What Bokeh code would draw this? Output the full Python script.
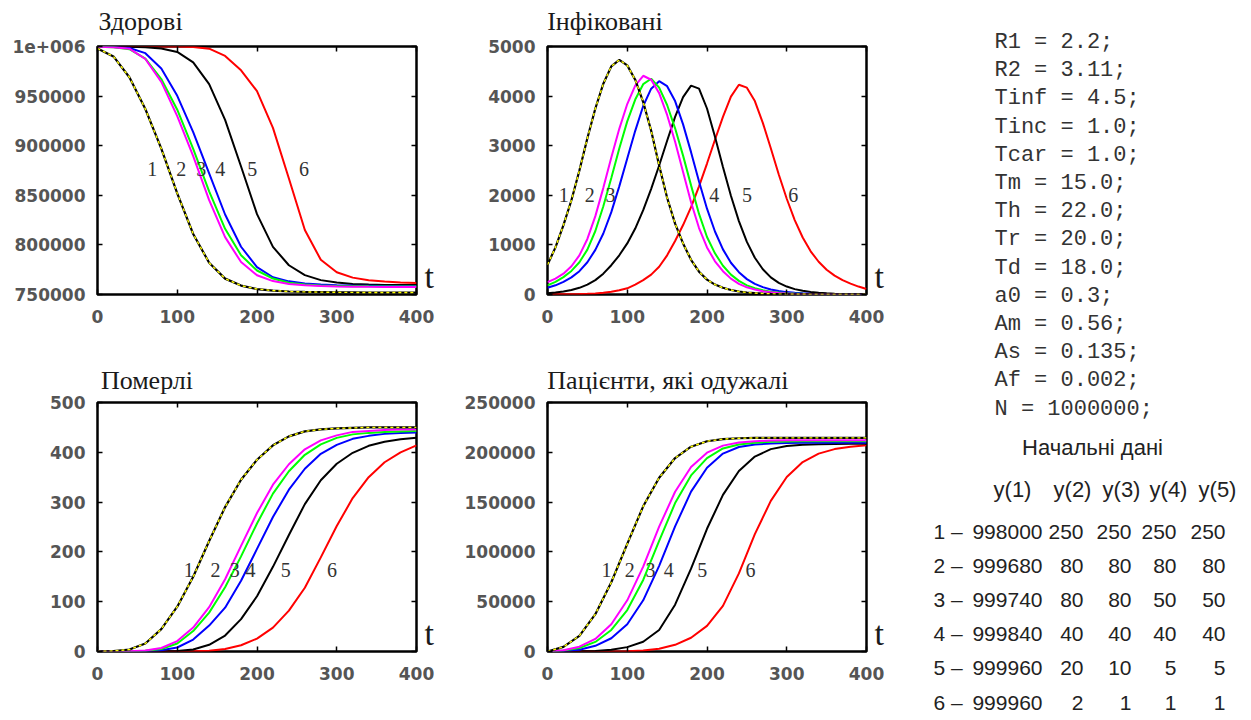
from bokeh.plotting import figure
from bokeh.models import (Range1d, LinearAxis, FixedTicker, BasicTickFormatter,
                          CustomJSTickFormatter, ColumnDataSource)
from bokeh.layouts import row, column
from bokeh.embed import file_html
from bokeh.resources import INLINE
from bokeh.core.properties import value

# ---------------- data ----------------
T_COARSE = list(range(0, 401, 20))   # time grid for S, D, R
T_FINE = list(range(0, 401, 10))     # time grid for I

# Здорові (healthy)
S1 = [998000, 990000, 969000, 937000, 897000, 852000, 811000, 782000, 766000, 759000, 755500,
      754000, 753000, 752600, 752400, 752200, 752100, 752000, 752000, 752000, 752000]
S2 = [999680, 999300, 997800, 987400, 964300, 929800, 889500, 845200, 807800, 782700, 769400,
      763500, 760600, 759400, 758500, 758150, 757900, 757700, 757600, 757500, 757500]
S3 = [999740, 999340, 997260, 987800, 967200, 936300, 896800, 854000, 816200, 789600, 774200,
      766060, 761920, 760180, 759180, 758640, 758400, 758200, 758100, 758000, 758000]
S4 = [999840, 999585, 998480, 993290, 977810, 950300, 913590, 872020, 830640, 798130, 777620,
      767360, 763250, 761110, 759960, 759280, 759000, 758800, 758600, 758500, 758500]
S5 = [999960, 999900, 999700, 999200, 998000, 994500, 984000, 962000, 926000, 879000, 831000,
      798000, 779500, 769500, 764500, 762000, 760700, 760000, 759700, 759500, 759500]
S6 = [999960, 999960, 999950, 999940, 999920, 999880, 999600, 997800, 990500, 976000, 955000,
      918000, 867000, 815000, 785000, 772500, 767000, 764400, 763000, 762100, 761600]

# Інфіковані (infected)
I1 = [600, 950, 1400, 1900, 2500, 3150, 3750, 4250, 4600, 4730, 4620, 4330, 3880, 3300, 2600,
      1950, 1430, 1030, 700, 460, 300, 200, 135, 90, 60, 40, 28, 19, 13, 9, 6, 5, 4, 3, 2, 2,
      1, 1, 1, 1, 1]
I2 = [250, 320, 420, 570, 790, 1120, 1580, 2150, 2760, 3340, 3840, 4210, 4410, 4330, 4060,
      3620, 3080, 2470, 1860, 1340, 950, 670, 470, 320, 215, 145, 100, 67, 45, 31, 21, 15, 10,
      7, 5, 4, 3, 2, 2, 1, 1]
I3 = [185, 255, 350, 475, 650, 905, 1280, 1780, 2350, 2945, 3490, 3930, 4240, 4350, 4170,
      3820, 3350, 2800, 2200, 1625, 1160, 830, 580, 400, 275, 185, 125, 85, 58, 40, 27, 19,
      13, 9, 6, 5, 3, 3, 2, 1, 1]
I4 = [135, 185, 255, 345, 470, 650, 900, 1230, 1660, 2180, 2740, 3300, 3800, 4150, 4300,
      4200, 3900, 3430, 2870, 2280, 1730, 1270, 910, 640, 450, 310, 215, 148, 102, 70, 48,
      33, 23, 16, 11, 8, 5, 4, 3, 2, 1]
I5 = [27, 40, 60, 90, 135, 200, 290, 420, 590, 790, 1030, 1330, 1700, 2130, 2600, 3100,
      3580, 3980, 4210, 4150, 3750, 3180, 2570, 1990, 1480, 1060, 740, 510, 345, 235, 160,
      108, 74, 51, 35, 24, 16, 11, 8, 5, 4]
I6 = [2, 3, 4, 6, 9, 14, 22, 35, 55, 85, 125, 200, 290, 400, 560, 790, 1080, 1400, 1760,
      2180, 2640, 3120, 3580, 3990, 4230, 4170, 3900, 3460, 2950, 2420, 1930, 1500, 1150,
      870, 660, 500, 380, 290, 220, 160, 110]

# Померлі (deceased)
D1 = [0, 1, 4, 16, 45, 90, 150, 222, 290, 345, 385, 414, 432, 442, 446, 448, 449, 450, 450, 450, 450]
D2 = [0, 0, 0.7, 2.2, 7, 21, 48, 89, 145, 212, 278, 335, 376, 406, 424, 434, 441, 443, 445, 446, 446]
D3 = [0, 0, 0.4, 1.5, 5, 16, 41, 78, 129, 191, 257, 317, 362, 395, 416, 429, 436, 439, 441, 442, 443]
D4 = [0, 0, 0.2, 0.6, 2.5, 8, 24, 52, 88, 142, 206, 270, 325, 367, 397, 415, 427, 433, 437, 439, 440]
D5 = [0, 0, 0, 0, 0.2, 1, 4, 13.5, 32, 65, 111, 170, 234, 296, 344, 377, 399, 413, 421, 426, 429]
D6 = [0, 0, 0, 0, 0, 0, 0.4, 1.7, 5, 12.5, 26, 48, 82, 128, 189, 252, 308, 350, 380, 400, 414]

# Пацієнти, які одужалі (recovered)
R1 = [0, 4600, 15750, 37500, 69500, 108000, 145750, 174500, 194250, 205600, 211100, 213250,
      214100, 214425, 214500, 214500, 214500, 214500, 214500, 214500, 214500]
R2 = [0, 1340, 4800, 12600, 27400, 51400, 85200, 125400, 160400, 185200, 199600, 206700,
      209800, 211140, 211760, 212000, 212000, 212000, 212000, 212000, 212000]
R3 = [0, 900, 3500, 9600, 21600, 41600, 71800, 111000, 149000, 176800, 194200, 203900,
      207900, 209680, 210480, 210840, 211000, 211000, 211000, 211000, 211000]
R4 = [0, 420, 1850, 5700, 13300, 27300, 51400, 86000, 125600, 160500, 184500, 198700,
      205280, 207900, 208840, 209230, 209500, 209500, 209500, 209500, 209500]
R5 = [0, 0, 160, 580, 1740, 4400, 9800, 21600, 47000, 83200, 123200, 157200, 181200,
      195700, 203200, 206300, 207620, 208160, 208420, 208500, 208500]
R6 = [0, 0, 0, 0, 40, 260, 900, 2700, 6700, 13800, 25700, 45800, 78400, 117800, 151200,
      175200, 190200, 198700, 203200, 205600, 207000]

TITLES = ["Здорові", "Інфіковані", "Померлі", "Пацієнти, які одужалі"]
CURVE_NAMES = ["1", "2", "3", "4", "5", "6"]
X_TICKS = [0, 100, 200, 300, 400]
S_TICKS = [750000, 800000, 850000, 900000, 950000, 1000000]
I_TICKS = [0, 1000, 2000, 3000, 4000, 5000]
D_TICKS = [0, 100, 200, 300, 400, 500]
R_TICKS = [0, 50000, 100000, 150000, 200000, 250000]

PARAM_NAMES = ["R1", "R2", "Tinf", "Tinc", "Tcar", "Tm", "Th", "Tr", "Td", "a0", "Am", "As", "Af", "N"]
PARAM_VALUES = ["2.2", "3.11", "4.5", "1.0", "1.0", "15.0", "22.0", "20.0", "18.0", "0.3",
                "0.56", "0.135", "0.002", "1000000"]

INIT_TITLE = "Начальні дані"
INIT_HEADERS = ["y(1)", "y(2)", "y(3)", "y(4)", "y(5)"]
INIT_Y1 = [998000, 999680, 999740, 999840, 999960, 999960]
INIT_Y2 = [250, 80, 80, 40, 20, 2]
INIT_Y3 = [250, 80, 80, 40, 10, 1]
INIT_Y4 = [250, 80, 50, 40, 5, 1]
INIT_Y5 = [250, 80, 50, 40, 5, 1]

# ---------------- styling ----------------
COLORS = ["#ffff00", "#ff00ff", "#00ff00", "#0000ff", "#000000", "#ff0000"]
TICK_FONT = "DejaVu Sans"
SERIF = "Liberation Serif"
EMPTY = "return ''"


def style_axis(ax, labels=True, ticks=True):
    ax.major_tick_in = 5 if ticks else 0
    ax.major_tick_out = 0
    ax.minor_tick_line_color = None
    ax.axis_line_color = None
    ax.major_tick_line_color = "black" if ticks else None
    ax.major_tick_line_width = 1.5
    if labels:
        ax.major_label_text_font = TICK_FONT
        ax.major_label_text_font_style = "bold"
        ax.major_label_text_font_size = "17px"
        ax.major_label_text_color = "#555555"
    else:
        ax.major_label_standoff = 0
        ax.major_label_text_font_size = "1px"


def text_axis(tick, text, size, standoff):
    ax = LinearAxis(ticker=FixedTicker(ticks=[tick]),
                    major_label_overrides={tick: text})
    style_axis(ax, labels=False, ticks=False)
    ax.major_label_text_font = SERIF
    ax.major_label_text_font_size = size
    ax.major_label_text_color = "#1a1a1a"
    ax.major_label_standoff = standoff
    return ax


def chart(title, title_tick, t_tick, t, series, y_lo, y_hi, yticks, lab_t, lab_y,
          width, height, bl, br, bt, bb, title_standoff, overrides=None):
    p = figure(width=width, height=height, x_range=Range1d(0, 400),
               y_range=Range1d(y_lo, y_hi), output_backend="svg",
               toolbar_location=None, title=None,
               min_border_left=bl, min_border_right=br,
               min_border_top=bt, min_border_bottom=bb)
    p.grid.visible = False
    p.background_fill_color = "white"
    p.border_fill_color = "white"
    p.outline_line_color = "black"
    p.outline_line_width = 2.5
    p.xaxis.ticker = FixedTicker(ticks=X_TICKS)
    p.yaxis.ticker = FixedTicker(ticks=yticks)
    p.yaxis.formatter = BasicTickFormatter(use_scientific=False)
    if overrides:
        p.yaxis.major_label_overrides = overrides
    for ax in list(p.xaxis) + list(p.yaxis):
        style_axis(ax)
    p.xaxis.major_label_standoff = 15
    p.yaxis.major_label_standoff = 12

    top = LinearAxis(ticker=FixedTicker(ticks=X_TICKS), formatter=CustomJSTickFormatter(code=EMPTY))
    right = LinearAxis(ticker=FixedTicker(ticks=yticks), formatter=CustomJSTickFormatter(code=EMPTY))
    style_axis(top, labels=False)
    style_axis(right, labels=False)
    p.add_layout(top, "above")
    p.add_layout(right, "right")
    # chart title and the "t" marker, drawn as single-tick axis labels outside the frame
    p.add_layout(text_axis(title_tick, title, "26px", title_standoff), "above")
    p.add_layout(text_axis(t_tick, "t", "34px", 8), "right")

    for k in [5, 4, 3, 2, 1]:
        p.line(t, series[k], line_color=COLORS[k], line_width=2)
    p.line(t, series[0], line_color="black", line_width=2.2)
    p.line(t, series[0], line_color=COLORS[0], line_width=1.4, line_dash="3 3")

    src = ColumnDataSource(dict(x=lab_t, y=[lab_y] * len(lab_t), text=CURVE_NAMES))
    p.text(x="x", y="y", text="text", source=src, text_font=value(SERIF),
           text_font_size="20px", text_color="#333333", text_align="center",
           text_baseline="middle")
    return p


pS = chart(TITLES[0], 54, 768000, T_COARSE, [S1, S2, S3, S4, S5, S6], 750000, 1000000, S_TICKS,
           [68.5, 105, 130, 154, 194, 259], 877000, 448, 348, 97, 32, 46, 54, 11,
           overrides={1000000: "1e+006"})
pI = chart(TITLES[1], 72, 360, T_FINE, [I1, I2, I3, I4, I5, I6], 0, 5000, I_TICKS,
           [20.5, 53, 79, 209, 250, 308], 2000, 452, 348, 99, 34, 46, 54, 11)
pD = chart(TITLES[2], 62, 36, T_COARSE, [D1, D2, D3, D4, D5, D6], 0, 500, D_TICKS,
           [114.5, 148, 172, 192, 236, 294], 163, 448, 364, 97, 32, 54, 61, 8)
pR = chart(TITLES[3], 151, 18000, T_COARSE, [R1, R2, R3, R4, R5, R6], 0, 250000, R_TICKS,
           [74, 103, 129, 152, 194, 254.5], 81400, 452, 364, 99, 34, 54, 61, 8)

# ---------------- text panel ----------------
tp = figure(width=343, height=718, x_range=Range1d(900, 1243), y_range=Range1d(718, 0),
            output_backend="svg", toolbar_location=None, title=None, min_border=0,
            x_axis_type=None, y_axis_type=None)
tp.outline_line_color = None
tp.grid.visible = False

param_lines = [f"{n} = {v};" for n, v in zip(PARAM_NAMES, PARAM_VALUES)]
tp.text(x=[994] * len(param_lines), y=[42 + 28.2 * i for i in range(len(param_lines))],
        text=param_lines, text_font=value("Liberation Mono"), text_font_size="22px",
        text_color="#333333", text_align="left", text_baseline="middle")

TABLE_FONT = value("Liberation Sans")
tp.text(x=[1092], y=[447], text=[INIT_TITLE], text_font=TABLE_FONT, text_font_size="22px",
        text_color="#222222", text_align="center", text_baseline="middle")
tp.text(x=[1012, 1072, 1121, 1168, 1217], y=[489] * 5, text=INIT_HEADERS, text_font=TABLE_FONT,
        text_font_size="22px", text_color="#222222", text_align="center",
        text_baseline="middle")

row_y = [531, 565, 599, 633, 667, 702]
tp.text(x=[933] * 6, y=row_y, text=[f"{i + 1} –" for i in range(6)], text_font=TABLE_FONT,
        text_font_size="21px", text_color="#222222", text_align="left",
        text_baseline="middle")
col_right = [1042, 1083, 1131, 1176, 1225]
for cx, col in zip(col_right, [INIT_Y1, INIT_Y2, INIT_Y3, INIT_Y4, INIT_Y5]):
    tp.text(x=[cx] * 6, y=row_y, text=[str(v) for v in col], text_font=TABLE_FONT,
            text_font_size="21px", text_color="#222222", text_align="right",
            text_baseline="middle")

layout = row(column(row(pS, pI), row(pD, pR)), tp)
open("out.html", "w").write(file_html(layout, INLINE, title="SEIR"))
